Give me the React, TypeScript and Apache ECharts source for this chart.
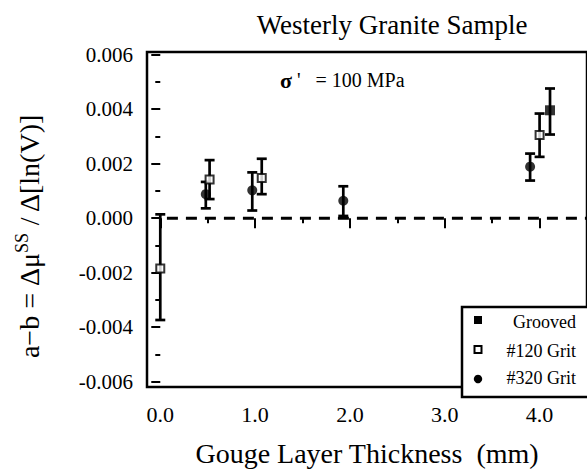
import React, { useEffect, useRef } from "react";
import * as echarts from "echarts";

const FONT = '"Liberation Serif", "DejaVu Serif", "Times New Roman", serif';

// ---- data ----
const grit320X = [0.48, 0.97, 1.93, 3.9];
const grit320Y = [0.00088, 0.00102, 0.00064, 0.00189];
const grit320Lo = [0.00036, 0.00028, 0.00008, 0.00138];
const grit320Hi = [0.00133, 0.00168, 0.00117, 0.00237];

const grit120X = [0.0, 0.52, 1.07, 4.0];
const grit120Y = [-0.00185, 0.00142, 0.00147, 0.00305];
const grit120Lo = [-0.00374, 0.0007, 0.00088, 0.00225];
const grit120Hi = [0.00014, 0.00213, 0.00218, 0.00384];

const groovedX = [4.11];
const groovedY = [0.00396];
const groovedLo = [0.00307];
const groovedHi = [0.00476];

const zeroLineX = [0.07, 4.5];
const zeroLineY = [0, 0];

const xMajorTicks = [0, 1, 2, 3, 4];
const xMinorTicks = [0.5, 1.5, 2.5, 3.5];
const yMajorTicks = [-0.006, -0.004, -0.002, 0, 0.002, 0.004, 0.006];
const yMinorTicks = [-0.005, -0.003, -0.001, 0.001, 0.003, 0.005];

const legendNames = ["Grooved", "#120 Grit", "#320 Grit"];

const X_MIN = -0.14;
const X_MAX = 4.5;
const Y_MIN = -0.0062;
const Y_MAX = 0.0061;

function zip(xs: number[], ys: number[]) {
  return xs.map((x, i) => [x, ys[i]]);
}
function zip3(xs: number[], lo: number[], hi: number[]) {
  return xs.map((x, i) => [x, lo[i], hi[i]]);
}

export default function App() {
  const ref = useRef<HTMLDivElement>(null);
  useEffect(() => {
    if (!ref.current) return;
    const chart = echarts.init(ref.current, undefined, { renderer: "svg" });

    const errorData = [
      ...zip3(grit320X, grit320Lo, grit320Hi),
      ...zip3(grit120X, grit120Lo, grit120Hi),
      ...zip3(groovedX, groovedLo, groovedHi),
    ];

    const option: any = {
      animation: false,
      backgroundColor: "#fff",
      grid: {
        left: 147,
        top: 52,
        right: -5,
        bottom: 75,
        show: true,
        borderColor: "#000",
        borderWidth: 2.5,
        backgroundColor: "transparent",
      },
      xAxis: [
        {
          type: "value",
          min: X_MIN,
          max: X_MAX,
          position: "bottom",
          axisLine: { show: false },
          splitLine: { show: false },
          axisTick: {
            show: true,
            inside: false,
            length: 10,
            lineStyle: { color: "#000", width: 2 },
            customValues: xMajorTicks,
          },
          axisLabel: {
            show: true,
            customValues: xMajorTicks,
            formatter: (v: number) => v.toFixed(1),
            fontFamily: FONT,
            fontSize: 22,
            color: "#000",
            margin: 16,
          },
          name: "Gouge Layer Thickness  (mm)",
          nameLocation: "middle",
          nameGap: 52,
          nameTextStyle: { fontFamily: FONT, fontSize: 28, color: "#000" },
        },
        {
          type: "value",
          min: X_MIN,
          max: X_MAX,
          position: "bottom",
          axisLine: { show: false },
          splitLine: { show: false },
          axisLabel: { show: false },
          axisTick: {
            show: true,
            inside: false,
            length: 5,
            lineStyle: { color: "#000", width: 2 },
            customValues: xMinorTicks,
          },
        },
      ],
      yAxis: [
        {
          type: "value",
          min: Y_MIN,
          max: Y_MAX,
          position: "left",
          axisLine: { show: false },
          splitLine: { show: false },
          axisTick: {
            show: true,
            inside: false,
            length: 9,
            lineStyle: { color: "#000", width: 2 },
            customValues: yMajorTicks,
          },
          axisLabel: {
            show: true,
            customValues: yMajorTicks,
            formatter: (v: number) => (Math.abs(v) < 1e-12 ? "0.000" : v.toFixed(3)),
            fontFamily: FONT,
            fontSize: 21,
            color: "#000",
            margin: 14,
          },
        },
        {
          type: "value",
          min: Y_MIN,
          max: Y_MAX,
          position: "left",
          axisLine: { show: false },
          splitLine: { show: false },
          axisLabel: { show: false },
          axisTick: {
            show: true,
            inside: false,
            length: 5,
            lineStyle: { color: "#000", width: 2 },
            customValues: yMinorTicks,
          },
        },
      ],
      series: [
        {
          type: "line",
          data: zip(zeroLineX, zeroLineY),
          symbol: "none",
          lineStyle: { color: "#000", width: 3, type: [11, 8] },
          silent: true,
          z: 1,
        },
        {
          type: "custom",
          data: errorData,
          z: 2,
          renderItem: (params: any, api: any) => {
            const x = api.value(0);
            const lo = api.coord([x, api.value(1)]);
            const hi = api.coord([x, api.value(2)]);
            const cap = 5;
            const style = { stroke: "#000", lineWidth: 2.7 };
            return {
              type: "group",
              children: [
                { type: "line", shape: { x1: lo[0], y1: lo[1], x2: hi[0], y2: hi[1] }, style },
                { type: "line", shape: { x1: lo[0] - cap, y1: lo[1], x2: lo[0] + cap, y2: lo[1] }, style },
                { type: "line", shape: { x1: hi[0] - cap, y1: hi[1], x2: hi[0] + cap, y2: hi[1] }, style },
              ],
            };
          },
        },
        {
          name: legendNames[0],
          type: "scatter",
          data: zip(groovedX, groovedY),
          symbol: "rect",
          symbolSize: 10,
          itemStyle: { color: "#000" },
          z: 3,
        },
        {
          name: legendNames[1],
          type: "scatter",
          data: zip(grit120X, grit120Y),
          symbol: "rect",
          symbolSize: 8,
          itemStyle: { color: "#fff", borderColor: "#000", borderWidth: 2 },
          z: 3,
        },
        {
          name: legendNames[2],
          type: "scatter",
          data: zip(grit320X, grit320Y),
          symbol: "circle",
          symbolSize: 10,
          itemStyle: { color: "#000" },
          z: 3,
        },
      ],
      graphic: [
        {
          type: "text",
          x: 392,
          y: 25,
          style: {
            text: "Westerly Granite Sample",
            align: "center",
            verticalAlign: "middle",
            fontFamily: FONT,
            fontSize: 27,
            fill: "#000",
          },
        },
        {
          type: "text",
          x: 28,
          y: 236,
          rotation: Math.PI / 2,
          style: {
            text: "{n|a\u2212b = \u0394\u03bc}{s|SS}{n| / \u0394[ln(V)]}",
            align: "center",
            verticalAlign: "middle",
            fill: "#000",
            rich: {
              n: { fontFamily: FONT, fontSize: 28, lineHeight: 31, verticalAlign: "bottom", fill: "#000" },
              s: { fontFamily: FONT, fontSize: 18, lineHeight: 31, verticalAlign: "top", fill: "#000" },
            },
          },
        },
        {
          type: "text",
          x: 280,
          y: 80,
          style: {
            text: "{a|\u03c3}{b| '   = 100 MPa}",
            align: "left",
            verticalAlign: "middle",
            rich: {
              a: { fontFamily: FONT, fontSize: 22, fontWeight: "bold", fill: "#000" },
              b: { fontFamily: FONT, fontSize: 20, fill: "#000" },
            },
          },
        },
        {
          type: "group",
          z: 100,
          children: [
            {
              type: "rect",
              shape: { x: 462, y: 307, width: 140, height: 90 },
              style: { fill: "#fff", stroke: "#000", lineWidth: 2.5 },
            },
            {
              type: "rect",
              shape: { x: 474, y: 316, width: 8, height: 8 },
              style: { fill: "#000" },
            },
            {
              type: "rect",
              shape: { x: 474.5, y: 346, width: 7, height: 7 },
              style: { fill: "#fff", stroke: "#000", lineWidth: 2 },
            },
            {
              type: "circle",
              shape: { cx: 478, cy: 379, r: 4.2 },
              style: { fill: "#000" },
            },
            {
              type: "text",
              x: 576,
              y: 322,
              style: { text: legendNames[0], align: "right", verticalAlign: "middle", fontFamily: FONT, fontSize: 18, fill: "#000" },
            },
            {
              type: "text",
              x: 576,
              y: 351,
              style: { text: legendNames[1], align: "right", verticalAlign: "middle", fontFamily: FONT, fontSize: 18, fill: "#000" },
            },
            {
              type: "text",
              x: 576,
              y: 378,
              style: { text: legendNames[2], align: "right", verticalAlign: "middle", fontFamily: FONT, fontSize: 18, fill: "#000" },
            },
          ],
        },
      ],
    };
    chart.setOption(option);
    return () => chart.dispose();
  }, []);
  return <div ref={ref} style={{ position: "absolute", left: 0, top: 0, width: 587, height: 472 }} />;
}
